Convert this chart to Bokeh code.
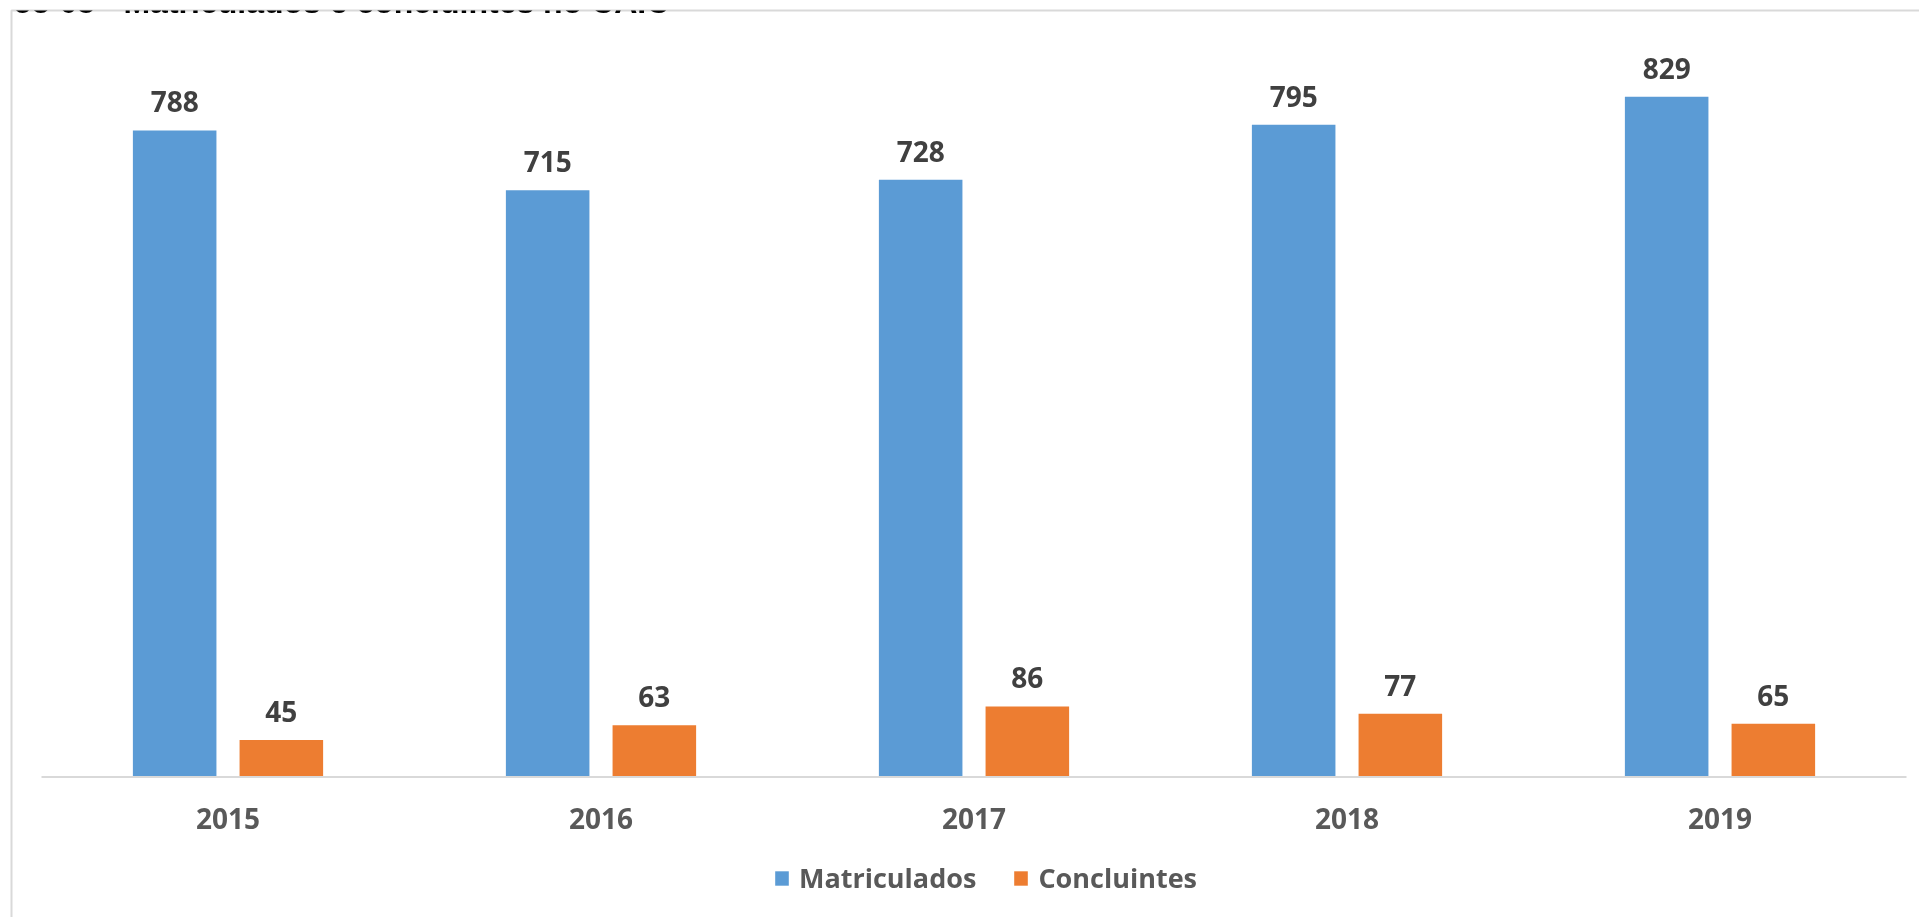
from bokeh.plotting import figure
from bokeh.models import (ColumnDataSource, Range1d, LabelSet, Legend, LegendItem, Label)
from bokeh.core.properties import value
from bokeh.transform import dodge
from bokeh.embed import file_html
from bokeh.resources import INLINE

# ---- data ----
years = ["2015", "2016", "2017", "2018", "2019"]
matriculados = [788, 715, 728, 795, 829]
concluintes = [45, 63, 86, 77, 65]
series_names = ["Matriculados", "Concluintes"]
title_text = "Gráfico 05 - Matriculados e concluintes no CAIC"

# ---- layout constants (pixels) ----
W, H = 1930, 930
FRAME_L, FRAME_T = 11, 10
CAT0_PX = 227.5      # pixel centre of first category
CAT_W_PX = 373.0     # pixels per category
BASE_PX = 776.5      # pixel y of value 0
Y_SCALE = 0.8205     # pixels per unit

x_start = (FRAME_L - CAT0_PX) / CAT_W_PX
x_end = (W - CAT0_PX) / CAT_W_PX
y_start = -(H - BASE_PX) / Y_SCALE
y_end = (BASE_PX - FRAME_T) / Y_SCALE

def px_x(px):
    return (px - CAT0_PX) / CAT_W_PX

def px_y(py):
    return (BASE_PX - py) / Y_SCALE

BLUE = "#5B9BD5"
ORANGE = "#ED7D31"
FONT = "Open Sans"

src = ColumnDataSource(dict(
    idx=list(range(len(years))),
    year=years,
    mat=matriculados,
    con=concluintes,
    mat_s=[str(v) for v in matriculados],
    con_s=[str(v) for v in concluintes],
    zero=[0] * len(years),
))

p = figure(width=W, height=H, output_backend="svg", toolbar_location=None,
           x_range=Range1d(x_start, x_end), y_range=Range1d(y_start, y_end),
           x_axis_type=None, y_axis_type=None,
           min_border_left=FRAME_L, min_border_top=FRAME_T,
           min_border_right=0, min_border_bottom=0)
p.styles = {"position": "fixed", "top": "0px", "left": "0px"}
p.grid.visible = False
p.outline_line_color = "#D9D9D9"
p.outline_line_width = 2
p.background_fill_color = "white"
p.border_fill_color = "white"

off = 0.143
bw = 0.224
r1 = p.vbar(x=dodge("idx", -off), top="mat", width=bw, source=src,
            fill_color=BLUE, line_color=None)
r2 = p.vbar(x=dodge("idx", off), top="con", width=bw, source=src,
            fill_color=ORANGE, line_color=None)

# category axis line
n = len(years)
p.segment(x0=[-0.5], x1=[n - 0.5], y0=[0], y1=[0], line_color="#D9D9D9", line_width=2)

# data labels
for col, lab, sign in (("mat", "mat_s", -1), ("con", "con_s", 1)):
    p.add_layout(LabelSet(x=dodge("idx", sign * off), y=col, text=lab, source=src,
                          y_offset=18, text_align="center", text_baseline="alphabetic",
                          text_font=value(FONT), text_font_style="bold",
                          text_font_size="28px", text_color="#404040"))

# category labels
p.add_layout(LabelSet(x="idx", y="zero", text="year", source=src, y_offset=-52,
                      text_align="center", text_baseline="alphabetic",
                      text_font=value(FONT), text_font_style="bold",
                      text_font_size="28px", text_color="#595959"))

legend = Legend(items=[LegendItem(label=series_names[0], renderers=[r1]),
                       LegendItem(label=series_names[1], renderers=[r2])],
                location=(762, 34), orientation="horizontal",
                glyph_width=17, glyph_height=18, label_standoff=9, spacing=36,
                padding=0, margin=0, border_line_color=None,
                background_fill_alpha=0,
                label_text_font=FONT, label_text_font_style="bold",
                label_text_font_size="27px", label_text_color="#595959")
p.add_layout(legend, "center")

p.add_layout(Label(x=px_x(-62), y=px_y(1.5), text=title_text,
                   text_font="Liberation Sans", text_font_style="bold",
                   text_font_size="32px", text_color="black",
                   text_baseline="alphabetic"))

open("out.html", "w").write(file_html(p, INLINE))
